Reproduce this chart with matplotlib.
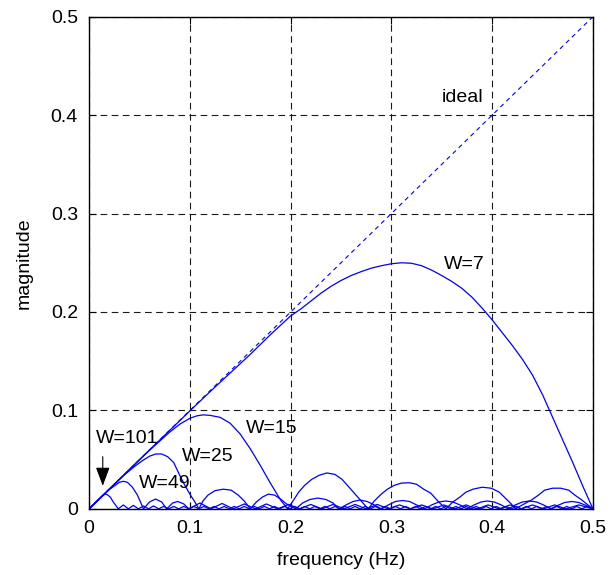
import matplotlib
matplotlib.use('Agg')
import matplotlib.pyplot as plt

plt.rcParams['font.family'] = ['Liberation Sans', 'DejaVu Sans']

ticks = [0, 0.1, 0.2, 0.3, 0.4, 0.5]
tick_labels = ['0', '0.1', '0.2', '0.3', '0.4', '0.5']

ideal_f = [0, 0.5]
ideal_m = [0, 0.5]

f7 = [0, 0.05, 0.1, 0.12, 0.14, 0.16, 0.18, 0.2, 0.21, 0.22, 0.23, 0.24, 0.25,
      0.26, 0.27, 0.28, 0.29, 0.3, 0.31, 0.32, 0.33, 0.34, 0.35, 0.36, 0.37,
      0.38, 0.39, 0.4, 0.41, 0.42, 0.43, 0.44, 0.45, 0.46, 0.47, 0.48, 0.49, 0.5]
m7 = [0, 0.05, 0.0995, 0.119, 0.138, 0.157, 0.177, 0.196, 0.203, 0.211, 0.219,
      0.226, 0.232, 0.237, 0.241, 0.2445, 0.247, 0.249, 0.25, 0.2495, 0.247,
      0.2425, 0.237, 0.231, 0.224, 0.215, 0.204, 0.192, 0.179, 0.166, 0.152,
      0.136, 0.116, 0.093, 0.07, 0.047, 0.023, 0]

f15 = [0, 0.03, 0.06, 0.08, 0.09, 0.1, 0.107, 0.113, 0.12, 0.13, 0.14, 0.15,
       0.16, 0.17, 0.18, 0.19, 0.197,
       0.203, 0.208, 0.214, 0.221, 0.228, 0.236, 0.244, 0.251, 0.258, 0.264,
       0.27, 0.277,
       0.283, 0.29, 0.296, 0.303, 0.31, 0.318, 0.325, 0.332, 0.339, 0.347, 0.354,
       0.361, 0.368, 0.374, 0.381, 0.39, 0.399, 0.407, 0.414, 0.419, 0.423,
       0.43, 0.439, 0.446, 0.452, 0.46, 0.468, 0.476, 0.482, 0.489, 0.495, 0.5]
m15 = [0, 0.03, 0.0595, 0.078, 0.086, 0.092, 0.0945, 0.0955, 0.095, 0.093,
       0.087, 0.076, 0.061, 0.044, 0.026, 0.009, 0,
       0.009, 0.017, 0.024, 0.030, 0.034, 0.0365, 0.035, 0.030, 0.022, 0.015,
       0.008, 0,
       0.008, 0.015, 0.020, 0.024, 0.0262, 0.0265, 0.025, 0.020, 0.016, 0.007, 0,
       0.007, 0.012, 0.017, 0.020, 0.022, 0.021, 0.017, 0.010, 0.005, 0,
       0.004, 0.009, 0.014, 0.019, 0.021, 0.021, 0.019, 0.014, 0.009, 0.004, 0]

f25 = [0, 0.02, 0.035, 0.045, 0.053, 0.06, 0.066, 0.072, 0.078, 0.084, 0.09,
       0.095, 0.1, 0.105, 0.109,
       0.113, 0.118, 0.125, 0.133, 0.141, 0.148, 0.154, 0.16,
       0.166, 0.172, 0.178, 0.184, 0.19, 0.196, 0.205,
       0.212, 0.219, 0.227, 0.235, 0.242, 0.248,
       0.255, 0.262, 0.269, 0.276, 0.283, 0.29,
       0.297, 0.304, 0.311, 0.318, 0.325, 0.333,
       0.34, 0.347, 0.354, 0.361, 0.368, 0.375,
       0.382, 0.389, 0.395, 0.402, 0.409, 0.416,
       0.423, 0.43, 0.437, 0.444, 0.451, 0.458,
       0.465, 0.472, 0.479, 0.486, 0.493, 0.5]
m25 = [0, 0.02, 0.0345, 0.043, 0.049, 0.0535, 0.0557, 0.0558, 0.053, 0.047,
       0.034, 0.024, 0.015, 0.007, 0,
       0.008, 0.014, 0.0185, 0.020, 0.019, 0.014, 0.008, 0,
       0.007, 0.012, 0.015, 0.014, 0.010, 0.005, 0,
       0.006, 0.0095, 0.011, 0.0095, 0.006, 0,
       0.004, 0.0075, 0.009, 0.0075, 0.004, 0,
       0.004, 0.0075, 0.0085, 0.0075, 0.004, 0,
       0.004, 0.007, 0.008, 0.007, 0.004, 0,
       0.004, 0.007, 0.008, 0.007, 0.004, 0,
       0.004, 0.007, 0.008, 0.007, 0.004, 0,
       0.0035, 0.0065, 0.0075, 0.0065, 0.0035, 0]

f49 = [0, 0.01, 0.02, 0.026, 0.03, 0.034, 0.038, 0.043, 0.048, 0.054,
       0.06, 0.066, 0.072, 0.077,
       0.083, 0.088, 0.094, 0.099,
       0.11, 0.121, 0.132, 0.143, 0.154, 0.165, 0.176, 0.187, 0.198, 0.209,
       0.22, 0.231, 0.242, 0.253, 0.264, 0.275, 0.286, 0.297, 0.308, 0.319,
       0.33, 0.341, 0.352, 0.363, 0.374, 0.385, 0.396, 0.407, 0.418, 0.429,
       0.44, 0.451, 0.462, 0.473, 0.486, 0.5]
m49 = [0, 0.01, 0.0195, 0.024, 0.027, 0.028, 0.027, 0.022, 0.014, 0,
       0.007, 0.010, 0.007, 0,
       0.006, 0.0075, 0.005, 0,
       0.006, 0, 0.0055, 0, 0.005, 0, 0.005, 0, 0.0045, 0,
       0.0045, 0, 0.0045, 0, 0.0045, 0, 0.0045, 0, 0.004, 0, 0.004, 0,
       0.004, 0, 0.004, 0, 0.004, 0, 0.004, 0, 0.004, 0,
       0.004, 0, 0.004, 0]

f101 = [0, 0.005, 0.009, 0.012, 0.014, 0.016, 0.018, 0.021, 0.024, 0.029,
        0.034, 0.039, 0.044, 0.049, 0.054, 0.059, 0.064, 0.069, 0.074, 0.079,
        0.084, 0.089, 0.094, 0.099, 0.104, 0.109, 0.114, 0.119, 0.124, 0.129,
        0.134, 0.139, 0.144, 0.149, 0.154, 0.159, 0.164, 0.169, 0.174, 0.179,
        0.184, 0.189, 0.194, 0.199, 0.204, 0.209, 0.214, 0.219, 0.224, 0.229,
        0.234, 0.239, 0.244, 0.249, 0.254, 0.259, 0.264, 0.269, 0.274, 0.279,
        0.284, 0.289, 0.294, 0.299, 0.304, 0.309, 0.314, 0.319, 0.324, 0.329,
        0.334, 0.339, 0.344, 0.349, 0.354, 0.359, 0.364, 0.369, 0.374, 0.379,
        0.384, 0.389, 0.394, 0.399, 0.404, 0.409, 0.414, 0.419, 0.424, 0.429,
        0.434, 0.439, 0.444, 0.449, 0.454, 0.459, 0.464, 0.469, 0.474, 0.479,
        0.484, 0.489, 0.494, 0.5]
m101 = [0, 0.005, 0.009, 0.012, 0.0138, 0.015, 0.0145, 0.012, 0.007, 0,
        0.004, 0, 0.0035, 0, 0.003, 0, 0.003, 0, 0.0025, 0,
        0.0025, 0, 0.0025, 0, 0.0025, 0, 0.0025, 0, 0.0025, 0,
        0.0025, 0, 0.0025, 0, 0.0025, 0, 0.0025, 0, 0.0025, 0,
        0.0025, 0, 0.0025, 0, 0.0025, 0, 0.0025, 0, 0.0025, 0,
        0.0025, 0, 0.0025, 0, 0.0025, 0, 0.0025, 0, 0.0025, 0,
        0.0025, 0, 0.0025, 0, 0.0025, 0, 0.0025, 0, 0.0025, 0,
        0.0025, 0, 0.0025, 0, 0.0025, 0, 0.0025, 0, 0.0025, 0,
        0.0025, 0, 0.0025, 0, 0.0025, 0, 0.0025, 0, 0.0025, 0,
        0.0025, 0, 0.0025, 0, 0.0025, 0, 0.0025, 0, 0.0025, 0,
        0.0025, 0, 0.0025, 0]

# label text and where it sits (frequency, magnitude)
curve_labels = [('ideal', 0.350, 0.418), ('W=7', 0.352, 0.248),
                ('W=15', 0.156, 0.082), ('W=25', 0.0925, 0.0528),
                ('W=49', 0.049, 0.0254), ('W=101', 0.007, 0.071)]

fig = plt.figure(figsize=(6.1, 5.75), dpi=100)
ax = fig.add_axes([0.146, 0.115, 0.826, 0.856])

blue = (0, 0, 1)
ax.plot(ideal_f, ideal_m, color=blue, lw=0.8, linestyle=(0, (4, 3.5)))
for f, m in [(f7, m7), (f15, m15), (f25, m25), (f49, m49), (f101, m101)]:
    ax.plot(f, m, color=blue, lw=0.9)

for txt, x, y in curve_labels:
    ax.text(x, y, txt, fontsize=14, ha='left', va='center')

ax.annotate('', xy=(0.0136, 0.0234), xytext=(0.0136, 0.053),
            arrowprops=dict(arrowstyle='-|>,head_length=1.15,head_width=0.43',
                            color='k', lw=0.8, shrinkA=0, shrinkB=0))

ax.set_xlim(0, 0.5)
ax.set_ylim(0, 0.5)
ax.set_xticks(ticks)
ax.set_yticks(ticks)
ax.set_xticklabels(tick_labels)
ax.set_yticklabels(tick_labels)
ax.tick_params(direction='in', length=5, labelsize=14, top=True, right=True,
               pad=8)
ax.grid(True, color='0.1', linestyle=(0, (6, 4)), linewidth=0.8)
ax.set_axisbelow(True)
for s in ax.spines.values():
    s.set_linewidth(1.0)

ax.set_xlabel('frequency (Hz)', fontsize=14, labelpad=11)
ax.set_ylabel('magnitude', fontsize=14, labelpad=13)

fig.savefig('out.png', dpi=100)
